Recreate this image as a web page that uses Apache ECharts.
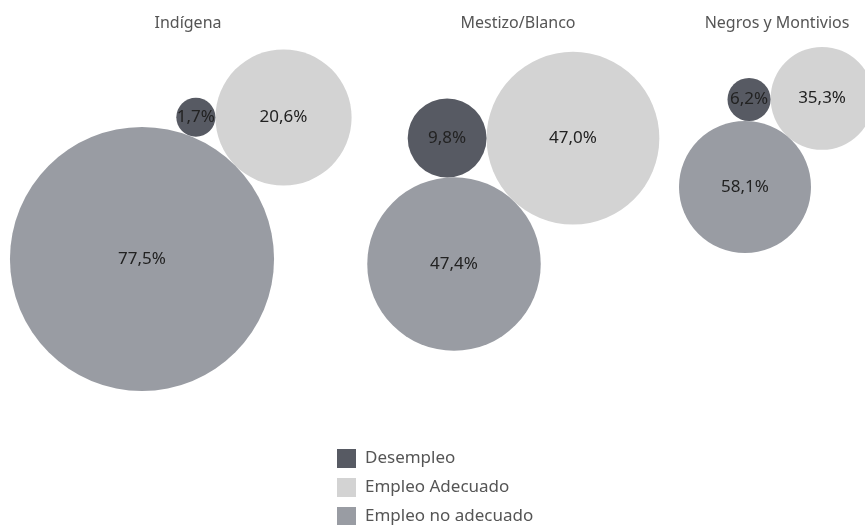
<!DOCTYPE html>
<html>
<head>
<meta charset="utf-8">
<script src="https://cdn.jsdelivr.net/npm/echarts@6/dist/echarts.min.js"></script>
<style>
  html, body { margin: 0; padding: 0; background: #fff; }
  #chart { width: 865px; height: 525px; }
</style>
</head>
<body>
<div id="chart"></div>
<script>
const groups = ["Indígena", "Mestizo/Blanco", "Negros y Montivios"];
const categories = ["Desempleo", "Empleo Adecuado", "Empleo no adecuado"];
const desempleo = [1.7, 9.8, 6.2];
const empleoAdecuado = [20.6, 47.0, 35.3];
const empleoNoAdecuado = [77.5, 47.4, 58.1];
const colors = ["#575a63", "#d3d3d3", "#999ca3"];

// packed-bubble layout per group (largest bottom, 2nd up-right, 3rd tangent on the left)
const anchors = [[142, 259], [454, 264], [745, 187]];
const scales = [15.0, 12.6, 8.66];
const angles = [-45, -46.6, -49];
const titleX = [183, 513, 772];

const seriesValues = [desempleo, empleoAdecuado, empleoNoAdecuado];
const points = categories.map(() => []);

groups.forEach((g, gi) => {
  const items = seriesValues.map((vals, ci) => ({ ci, v: vals[gi], r: scales[gi] * Math.sqrt(vals[gi]) }));
  items.sort((a, b) => b.v - a.v);
  const A = items[0], B = items[1], C = items[2];
  const a = anchors[gi];
  const ang = angles[gi] * Math.PI / 180;
  const d = A.r + B.r;
  const u = [Math.cos(ang), Math.sin(ang)];
  const b = [a[0] + d * u[0], a[1] + d * u[1]];
  const da = A.r + C.r, db = B.r + C.r;
  const along = (da * da - db * db + d * d) / (2 * d);
  const h = Math.sqrt(Math.max(0, da * da - along * along));
  const perp = [u[1], -u[0]];
  const c = [a[0] + along * u[0] + h * perp[0], a[1] + along * u[1] + h * perp[1]];
  [[A, a], [B, b], [C, c]].forEach(([it, p]) => {
    points[it.ci].push({ value: [p[0], p[1], it.v], symbolSize: it.r * 2 });
  });
});

const chart = echarts.init(document.getElementById("chart"));
chart.setOption({
  animation: false,
  textStyle: { fontFamily: "Noto Sans" },
  title: groups.map((g, i) => ({
    text: g,
    left: titleX[i],
    top: 10,
    textAlign: "center",
    textStyle: { fontSize: 16, fontWeight: "normal", color: "#555", fontFamily: "Noto Sans" }
  })),
  grid: { left: 0, top: 0, width: 865, height: 525 },
  xAxis: { type: "value", min: 0, max: 865, show: false },
  yAxis: { type: "value", min: 0, max: 525, inverse: true, show: false },
  legend: {
    orient: "vertical",
    left: 337,
    top: 449,
    height: 90,
    padding: 0,
    itemWidth: 19,
    itemHeight: 19,
    itemGap: 10,
    icon: "rect",
    textStyle: { fontSize: 17, color: "#555", fontFamily: "Noto Sans", padding: [0, 0, 0, 4] },
    data: categories
  },
  series: categories.map((name, ci) => ({
    name,
    type: "scatter",
    itemStyle: { color: colors[ci], opacity: 1 },
    emphasis: { disabled: true },
    label: {
      show: true,
      position: "inside",
      color: "#222",
      fontSize: 17,
      formatter: (p) => p.value[2].toFixed(1).replace(".", ",") + "%"
    },
    z: ci === 0 ? 3 : 2,
    data: points[ci]
  }))
});
</script>
</body>
</html>
